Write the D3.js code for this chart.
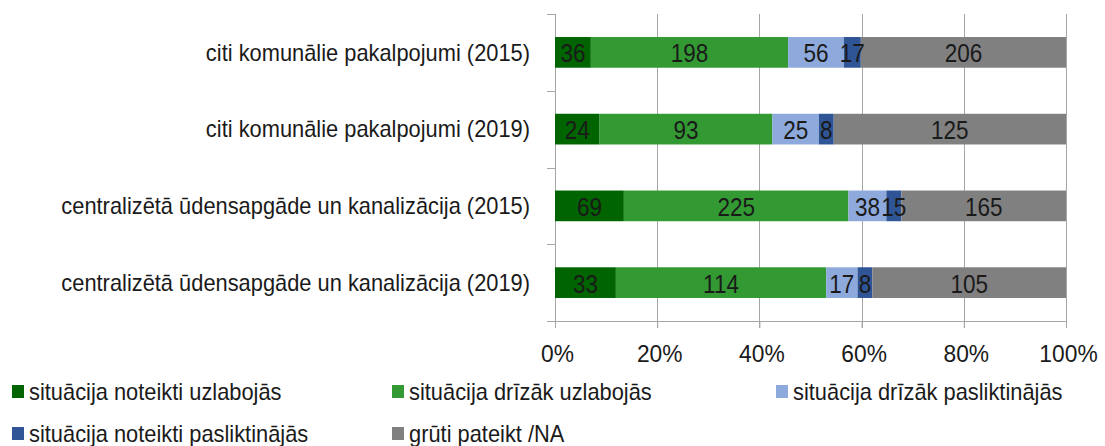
<!DOCTYPE html>
<html><head><meta charset="utf-8">
<script src="https://cdn.jsdelivr.net/npm/d3@7"></script>
<style>
body{margin:0;background:#fff;}
text{font-family:"Liberation Sans",Arial,sans-serif;}
</style></head><body>
<svg id="c" width="1105" height="446"></svg>
<script>
const categories = [
  "citi komunālie pakalpojumi (2015)",
  "citi komunālie pakalpojumi (2019)",
  "centralizētā ūdensapgāde un kanalizācija (2015)",
  "centralizētā ūdensapgāde un kanalizācija (2019)"
];
const seriesNames = [
  "situācija noteikti uzlabojās",
  "situācija drīzāk uzlabojās",
  "situācija drīzāk pasliktinājās",
  "situācija noteikti pasliktinājās",
  "grūti pateikt /NA"
];
const noteiktiUzlabojas   = [36, 24, 69, 33];
const drizakUzlabojas     = [198, 93, 225, 114];
const drizakPasliktinajas = [56, 25, 38, 17];
const noteiktiPasliktinajas = [17, 8, 15, 8];
const gruti               = [206, 125, 165, 105];
const colors = ["#006400", "#339933", "#8eaadc", "#2f5597", "#808080"];
const tickLabels = ["0%", "20%", "40%", "60%", "80%", "100%"];

(function(){
const seriesValues = [noteiktiUzlabojas, drizakUzlabojas, drizakPasliktinajas, noteiktiPasliktinajas, gruti];
const rows = categories.map((c, i) => {
  const r = {cat: c};
  seriesNames.forEach((s, j) => r[s] = seriesValues[j][i]);
  return r;
});
const stacked = d3.stack().keys(seriesNames).offset(d3.stackOffsetExpand)(rows);

const svg = d3.select("#c");
const pl = 555, pr = 1066, pt = 14, pb = 321;
const x = d3.scaleLinear().domain([0, 1]).range([pl, pr]);
const y = d3.scaleBand().domain(categories).range([pt, pb]).paddingInner(0.6).paddingOuter(0.3);
const yb = d3.scaleBand().domain(categories).range([pt, pb]);
const gridColor = "#a6a6a6";
const txt = "#1a1a1a";

svg.append("g").selectAll("line").data(d3.range(1, 6).map(i => i / 5)).join("line")
  .attr("x1", d => Math.round(x(d)) + 0.5).attr("x2", d => Math.round(x(d)) + 0.5).attr("y1", pt).attr("y2", pb + 7)
  .attr("stroke", gridColor).attr("stroke-width", 1);

const xa = svg.append("g").attr("transform", `translate(0,${pb})`)
  .call(d3.axisBottom(x).tickValues(d3.range(0, 6).map(i => i / 5)).tickFormat((d, i) => tickLabels[i]).tickSize(7).tickSizeOuter(0));
xa.select(".domain").attr("stroke", gridColor).attr("d", `M${pl - 8},0.5H${pr}`);
xa.selectAll(".tick line").attr("stroke", gridColor);
xa.selectAll(".tick text").attr("font-size", 24).attr("fill", txt).attr("dy", "0").attr("y", 0)
  .attr("transform", "translate(2,41) scale(0.95,1)")
  .attr("font-family", '"Liberation Sans",Arial,sans-serif');

const ya = svg.append("g");
ya.append("line").attr("x1", pl + 0.5).attr("x2", pl + 0.5).attr("y1", pt).attr("y2", pb + 7).attr("stroke", gridColor);
const bounds = [pt, ...categories.map(c => yb(c) + yb.bandwidth())];
ya.selectAll("line.t").data(bounds).join("line").attr("class", "t")
  .attr("x1", pl - 8).attr("x2", pl).attr("y1", d => Math.round(d) + 0.5).attr("y2", d => Math.round(d) + 0.5)
  .attr("stroke", gridColor);
ya.selectAll("text").data(categories).join("text")
  .attr("transform", d => `translate(530,${yb(d) + yb.bandwidth() / 2}) scale(0.95,1)`).attr("dy", "0.36em")
  .attr("text-anchor", "end").attr("font-size", 23).attr("fill", txt).text(d => d);

const g = svg.append("g");
stacked.forEach((s, j) => {
  g.selectAll(null).data(s).join("rect")
    .attr("x", d => x(d[0])).attr("width", d => x(d[1]) - x(d[0]))
    .attr("y", d => y(d.data.cat)).attr("height", y.bandwidth())
    .attr("fill", colors[j]);
});
stacked.forEach((s, j) => {
  g.selectAll(null).data(s).join("text")
    .attr("transform", d => `translate(${(x(d[0]) + x(d[1])) / 2},${y(d.data.cat) + y.bandwidth() / 2 + 1}) scale(0.9,1)`)
    .attr("dy", "0.36em")
    .attr("text-anchor", "middle").attr("font-size", 25).attr("fill", txt)
    .text(d => d.data[s.key]);
});

const legendPos = [[12, 391], [392, 391], [776, 391], [12, 433], [392, 433]];
const lg = svg.append("g");
seriesNames.forEach((n, i) => {
  const [lx, ly] = legendPos[i];
  lg.append("rect").attr("x", lx).attr("y", ly - 6).attr("width", 12).attr("height", 13).attr("fill", colors[i]);
  lg.append("text").attr("transform", `translate(${lx + 17},${ly + 1}) scale(0.95,1)`).attr("dy", "0.36em")
    .attr("font-size", 23).attr("fill", txt).text(n);
});
})();
</script></body></html>
